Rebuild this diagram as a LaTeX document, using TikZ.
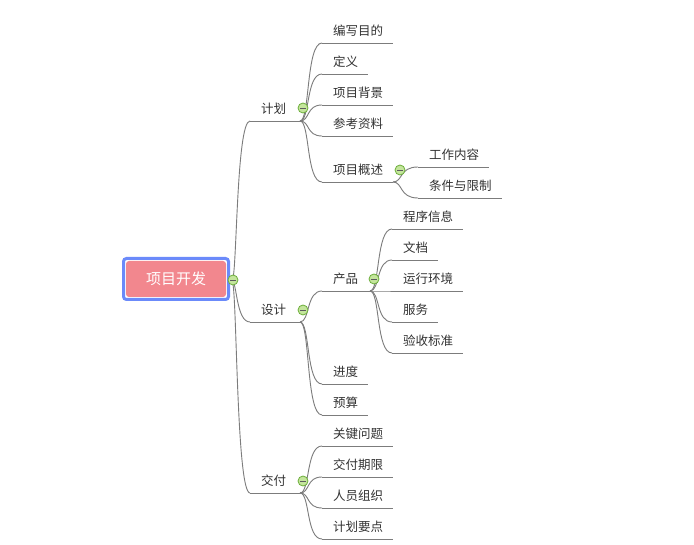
\documentclass[tikz,border=0pt]{standalone}
\usepackage{fontspec}
\newfontfamily\cjk{Noto Sans CJK SC}
\usetikzlibrary{calc}
\definecolor{lnc}{HTML}{7C7C7C}
\definecolor{txtc}{HTML}{333333}
\definecolor{rootblue}{HTML}{6B8AFA}
\definecolor{rootpink}{HTML}{F2878E}
\definecolor{knobfill}{HTML}{C4E59C}
\definecolor{knobline}{HTML}{6CAE3A}
\tikzset{
  txt/.style={anchor=west, inner sep=0pt, font=\cjk\fontsize{12.5}{14}\selectfont, text=txtc},
  ul/.style={draw=lnc, line width=0.9pt},
  conn/.style={draw=lnc, line width=0.9pt},
  knob/.style={circle, draw=knobline, fill=knobfill, line width=0.8pt, minimum size=10pt, inner sep=0pt},
}
\newcommand\mmn[5]{%
  \coordinate (#1-l) at (#2,#4);
  \coordinate (#1-r) at (#3,#4);
  \node[txt] (#1) at (#2+11,#4-12) {#5};
  \draw[ul] (#1-l) -- (#1-r);}
\newcommand\mmc[4]{%
  \draw[conn] let \p1=(#1-r), \p2=(#2-l) in
    (\p1) .. controls (\x1+#3,\y1) and (\x1+#4,\y2) .. (\p2);}
\newcommand\knobat[2]{%
  \node[knob] (#1) at #2 {};
  \draw[txtc!80, line width=0.9pt] ($(#1)+(-2.8,0)$) -- ($(#1)+(2.8,0)$);}
\begin{document}
\begin{tikzpicture}[x=1pt,y=-1pt]
\useasboundingbox (0,0) rectangle (694,545);
\fill[white] (0,0) rectangle (694,545);
% root
\node[draw=rootblue, line width=3pt, rounded corners=3pt, minimum width=105pt, minimum height=41pt, inner sep=0pt] (rootframe) at (176,279) {};
\node[fill=rootpink, rounded corners=3pt, minimum width=100pt, minimum height=36pt, inner sep=0pt, text=white, font=\cjk\fontsize{15}{17}\selectfont] (root) at (176,279) {项目开发};
\coordinate (root-r) at (232,281);
% level 1
\mmn{jh}{250}{300}{121}{计划}
\mmn{sj}{250}{300}{322}{设计}
\mmn{jf}{250}{300}{493}{交付}
% plan children
\mmn{bx}{322}{393}{43}{编写目的}
\mmn{dy}{322}{368}{74}{定义}
\mmn{bj}{322}{393}{105}{项目背景}
\mmn{ck}{322}{393}{136}{参考资料}
\mmn{gs}{322}{393}{182}{项目概述}
\mmn{gz}{418}{489}{167}{工作内容}
\mmn{tj}{418}{502}{198}{条件与限制}
% design children
\mmn{cp}{322}{370}{291}{产品}
\mmn{jd}{322}{368}{384}{进度}
\mmn{ysu}{322}{368}{415}{预算}
\mmn{cx}{392}{463}{229}{程序信息}
\mmn{wd}{392}{438}{260}{文档}
\mmn{yx}{392}{463}{291}{运行环境}
\mmn{fw}{392}{438}{322}{服务}
\mmn{yb}{392}{463}{353}{验收标准}
% delivery children
\mmn{gj}{322}{393}{446}{关键问题}
\mmn{qx}{322}{393}{477}{交付期限}
\mmn{ry}{322}{393}{508}{人员组织}
\mmn{yd}{322}{393}{539}{计划要点}
% connectors
\mmc{root}{jh}{5}{4}
\mmc{root}{sj}{5}{4}
\mmc{root}{jf}{5}{4}
\foreach \c in {bx,dy,bj,ck,gs} {\mmc{jh}{\c}{10}{6}}
\foreach \c in {gz,tj} {\mmc{gs}{\c}{10}{6}}
\foreach \c in {cp,jd,ysu} {\mmc{sj}{\c}{10}{6}}
\foreach \c in {cx,wd,yx,fw,yb} {\mmc{cp}{\c}{10}{6}}
\foreach \c in {gj,qx,ry,yd} {\mmc{jf}{\c}{10}{6}}
% knobs
\knobat{k0}{(233,280)}
\knobat{k1}{(303,108)}
\knobat{k2}{(303,310)}
\knobat{k3}{(303,481)}
\knobat{k4}{(400,170)}
\knobat{k5}{(374,279)}
\end{tikzpicture}
\end{document}
